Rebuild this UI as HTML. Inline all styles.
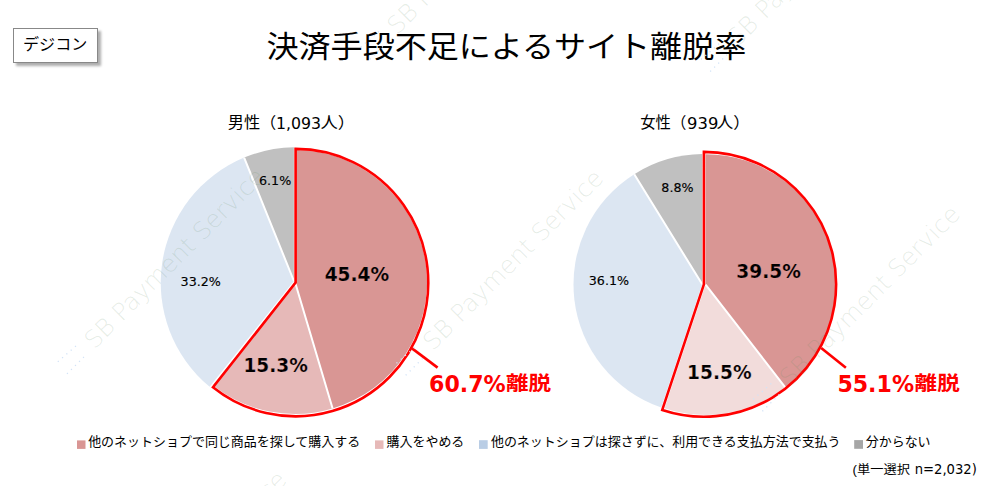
<!DOCTYPE html>
<html lang="ja">
<head>
<meta charset="utf-8">
<title>決済手段不足によるサイト離脱率</title>
<style>
html,body{margin:0;padding:0;background:#fff;}
body{width:1000px;height:486px;overflow:hidden;position:relative;font-family:"Liberation Sans","Noto Sans CJK JP",sans-serif;color:#000;}
#box{position:absolute;left:13px;top:28px;width:85px;height:35px;border:1px solid #888888;background:#fff;box-sizing:border-box;box-shadow:2.5px 2.5px 2.5px rgba(0,0,0,0.32);}
svg{position:absolute;left:0;top:0;}
.wm{font-family:"DejaVu Sans","Liberation Sans",sans-serif;font-size:24.3px;fill:rgba(95,140,95,0.16);font-weight:200;}
</style>
</head>
<body>
<div id="box"></div>
<svg width="1000" height="486" viewBox="0 0 1000 486">
<g>
<path fill="#D99694" d="M295.00 282.00 L295.00 150.00 A132.00 132.00 0 0 1 332.62 408.52 Z"/>
<path fill="#E6B9B8" d="M295.00 282.00 L332.62 408.52 A132.00 132.00 0 0 1 212.79 385.28 Z"/>
<path fill="#DCE6F2" d="M293.90 281.00 L209.65 386.84 A135.45 135.45 0 0 1 244.14 157.60 Z"/>
<path fill="#C0C0C0" d="M293.90 281.00 L244.14 157.60 A135.45 135.45 0 0 1 293.90 147.22 Z"/>
<path fill="#D99694" d="M705.60 284.60 L705.60 154.30 A130.30 130.30 0 0 1 785.46 387.56 Z"/>
<path fill="#F2DCDB" d="M705.60 284.60 L785.46 387.56 A130.30 130.30 0 0 1 664.56 408.27 Z"/>
<path fill="#DCE6F2" d="M702.20 284.30 L661.29 407.57 A130.30 130.30 0 0 1 634.26 174.21 Z"/>
<path fill="#C0C0C0" d="M702.20 284.30 L634.26 174.21 A130.30 130.30 0 0 1 702.20 154.11 Z"/>
</g>
<path fill="none" stroke="#ffffff" stroke-width="2.0" stroke-linecap="butt" d="M293.90 281.00 L244.14 157.60 M295.00 282.00 L332.62 408.52 M702.20 284.30 L634.26 174.21 M705.60 284.60 L785.46 387.56"/>
<g fill="none" stroke="#FF0000" stroke-width="2.6" stroke-linejoin="miter" stroke-miterlimit="10">
<path d="M295.60 282.60 L295.60 148.90 A132.65 133.70 0 1 1 212.99 387.21 Z"/>
<path d="M703.90 284.30 L703.90 151.90 A132.20 132.40 0 1 1 662.26 409.96 Z"/>
<path d="M412 348.4 L437.6 367.6"/>
<path d="M821.2 348 L845.9 367.8"/>
</g>
<text x="50" y="100" transform="matrix(1.0019 0 0 0.9333 216.40 -36.53)" style="font-family:'Liberation Sans','Noto Sans CJK JP',sans-serif;font-size:32px;font-weight:normal;" fill="#000">決済手段不足によるサイト離脱率</text>
<text x="50" y="100" transform="matrix(1.0065 0 0 0.9733 -27.33 -47.51)" style="font-family:'Liberation Sans','Noto Sans CJK JP',sans-serif;font-size:16px;font-weight:normal;" fill="#000">デジコン</text>
<text x="50" y="100" transform="matrix(1.0130 0 0 0.9800 177.03 29.84)" style="font-family:'Liberation Sans','Noto Sans CJK JP',sans-serif;font-size:16px;font-weight:normal;" fill="#000">男性（</text>
<text x="50" y="100" transform="matrix(0.9837 0 0 1.0333 226.85 25.47)" style="font-family:'DejaVu Sans','Liberation Sans',sans-serif;font-size:16px;font-weight:normal;" fill="#000">1,093</text>
<text x="50" y="100" transform="matrix(1.0850 0 0 0.9800 266.17 29.84)" style="font-family:'Liberation Sans','Noto Sans CJK JP',sans-serif;font-size:16px;font-weight:normal;" fill="#000">人）</text>
<text x="50" y="100" transform="matrix(0.9587 0 0 0.9800 592.31 29.84)" style="font-family:'Liberation Sans','Noto Sans CJK JP',sans-serif;font-size:16px;font-weight:normal;" fill="#000">女性（</text>
<text x="50" y="100" transform="matrix(1.0250 0 0 1.0333 635.83 25.57)" style="font-family:'DejaVu Sans','Liberation Sans',sans-serif;font-size:16px;font-weight:normal;" fill="#000">939</text>
<text x="50" y="100" transform="matrix(1.0500 0 0 0.9800 663.95 29.84)" style="font-family:'Liberation Sans','Noto Sans CJK JP',sans-serif;font-size:16px;font-weight:normal;" fill="#000">人）</text>
<text x="50" y="100" transform="matrix(1.0157 0 0 1.0319 208.21 81.82)" style="font-family:'DejaVu Sans','Liberation Sans',sans-serif;font-size:12.5px;font-weight:normal;" fill="#000" stroke="#000" stroke-width="0.15">6.1%</text>
<text x="50" y="100" transform="matrix(1.0157 0 0 1.0319 129.80 182.95)" style="font-family:'DejaVu Sans','Liberation Sans',sans-serif;font-size:12.5px;font-weight:normal;" fill="#000" stroke="#000" stroke-width="0.15">33.2%</text>
<text x="50" y="100" transform="matrix(1.0157 0 0 1.0319 610.56 88.40)" style="font-family:'DejaVu Sans','Liberation Sans',sans-serif;font-size:12.5px;font-weight:normal;" fill="#000" stroke="#000" stroke-width="0.15">8.8%</text>
<text x="50" y="100" transform="matrix(1.0157 0 0 1.0319 538.00 181.95)" style="font-family:'DejaVu Sans','Liberation Sans',sans-serif;font-size:12.5px;font-weight:normal;" fill="#000" stroke="#000" stroke-width="0.15">36.1%</text>
<text x="50" y="100" transform="matrix(1.0047 0 0 1.0481 274.41 175.70)" style="font-family:'DejaVu Sans','Liberation Sans',sans-serif;font-size:18.5px;font-weight:bold;" fill="#000" stroke="#D99694" stroke-width="0.2">45.4%</text>
<text x="50" y="100" transform="matrix(1.0047 0 0 1.0481 193.21 267.20)" style="font-family:'DejaVu Sans','Liberation Sans',sans-serif;font-size:18.5px;font-weight:bold;" fill="#000" stroke="#E6B9B8" stroke-width="0.2">15.3%</text>
<text x="50" y="100" transform="matrix(1.0047 0 0 1.0481 686.11 172.95)" style="font-family:'DejaVu Sans','Liberation Sans',sans-serif;font-size:18.5px;font-weight:bold;" fill="#000" stroke="#D99694" stroke-width="0.2">39.5%</text>
<text x="50" y="100" transform="matrix(1.0047 0 0 1.0481 636.81 274.40)" style="font-family:'DejaVu Sans','Liberation Sans',sans-serif;font-size:18.5px;font-weight:bold;" fill="#000" stroke="#F2DCDB" stroke-width="0.2">15.5%</text>
<text x="50" y="100" transform="matrix(0.9607 0 0 1.0059 381.09 291.21)" style="font-family:'DejaVu Sans','Liberation Sans',sans-serif;font-size:23px;font-weight:bold;" fill="#FF0000">60.7%</text>
<text x="50" y="100" transform="matrix(0.9607 0 0 1.0059 789.36 291.01)" style="font-family:'DejaVu Sans','Liberation Sans',sans-serif;font-size:23px;font-weight:bold;" fill="#FF0000">55.1%</text>
<text x="50" y="100" transform="matrix(1.0267 0 0 0.9000 454.61 299.90)" style="font-family:'Liberation Sans','Noto Sans CJK JP',sans-serif;font-size:22px;font-weight:bold;" fill="#FF0000">離脱</text>
<text x="50" y="100" transform="matrix(1.0267 0 0 0.9000 863.26 299.90)" style="font-family:'Liberation Sans','Noto Sans CJK JP',sans-serif;font-size:22px;font-weight:bold;" fill="#FF0000">離脱</text>
<text x="50" y="100" transform="matrix(0.9990 0 0 0.9692 38.19 349.04)" style="font-family:'Liberation Sans','Noto Sans CJK JP',sans-serif;font-size:13px;font-weight:normal;" fill="#000">他のネットショプで同じ商品を探して購入する</text>
<text x="50" y="100" transform="matrix(0.9990 0 0 0.9692 336.54 349.04)" style="font-family:'Liberation Sans','Noto Sans CJK JP',sans-serif;font-size:13px;font-weight:normal;" fill="#000">購入をやめる</text>
<text x="50" y="100" transform="matrix(0.9990 0 0 0.9692 440.98 349.04)" style="font-family:'Liberation Sans','Noto Sans CJK JP',sans-serif;font-size:13px;font-weight:normal;" fill="#000">他のネットショプは探さずに、利用できる支払方法で支払う</text>
<text x="50" y="100" transform="matrix(0.9990 0 0 0.9692 815.78 349.04)" style="font-family:'Liberation Sans','Noto Sans CJK JP',sans-serif;font-size:13px;font-weight:normal;" fill="#000">分からない</text>
<text x="50" y="100" transform="matrix(1.0218 0 0 0.9200 801.49 382.19)" style="font-family:'Liberation Sans','Noto Sans CJK JP',sans-serif;font-size:13px;font-weight:normal;" fill="#000">(単一選択</text>
<text x="50" y="100" transform="matrix(1.0136 0 0 1.0444 864.01 369.16)" style="font-family:'DejaVu Sans','Liberation Sans',sans-serif;font-size:13px;font-weight:normal;" fill="#000">n=2,032)</text>
<g>
<text class="wm" transform="translate(94.4 350.0) rotate(-45)">SB Payment Service</text>
<path transform="translate(94.4 350.0)" fill="none" stroke="#d2e3f7" stroke-width="1.3" stroke-dasharray="1.2 4.5" stroke-linecap="butt" d="M-36.6 11.8 L-18.4 -4 M-27.4 23.9 L-10.5 7"/>
<text class="wm" transform="translate(433.1 351.4) rotate(-45)">SB Payment Service</text>
<path transform="translate(433.1 351.4)" fill="none" stroke="#d2e3f7" stroke-width="1.3" stroke-dasharray="1.2 4.5" stroke-linecap="butt" d="M-36.6 11.8 L-18.4 -4 M-27.4 23.9 L-10.5 7"/>
<text class="wm" transform="translate(789.8 387.4) rotate(-45)">SB Payment Service</text>
<path transform="translate(789.8 387.4)" fill="none" stroke="#d2e3f7" stroke-width="1.3" stroke-dasharray="1.2 4.5" stroke-linecap="butt" d="M-36.6 11.8 L-18.4 -4 M-27.4 23.9 L-10.5 7"/>
<text class="wm" transform="translate(397.3 35.4) rotate(-45)">SB Payment Service</text>
<path transform="translate(397.3 35.4)" fill="none" stroke="#d2e3f7" stroke-width="1.3" stroke-dasharray="1.2 4.5" stroke-linecap="butt" d="M-36.6 11.8 L-18.4 -4 M-27.4 23.9 L-10.5 7"/>
<text class="wm" transform="translate(737.6 47.6) rotate(-45)">SB Payment Service</text>
<path transform="translate(737.6 47.6)" fill="none" stroke="#d2e3f7" stroke-width="1.3" stroke-dasharray="1.2 4.5" stroke-linecap="butt" d="M-36.6 11.8 L-18.4 -4 M-27.4 23.9 L-10.5 7"/>
<text class="wm" transform="translate(116.2 653.0) rotate(-45)">SB Payment Service</text>
<path transform="translate(116.2 653.0)" fill="none" stroke="#d2e3f7" stroke-width="1.3" stroke-dasharray="1.2 4.5" stroke-linecap="butt" d="M-36.6 11.8 L-18.4 -4 M-27.4 23.9 L-10.5 7"/>
</g>
<g>
<rect x="77" y="440.4" width="8.5" height="8.5" fill="#D99694"/>
<rect x="375" y="440.4" width="8.5" height="8.5" fill="#E6B9B8"/>
<rect x="479" y="440.2" width="8.7" height="8.7" fill="#B9CDE5"/>
<rect x="854.2" y="440.1" width="8.8" height="8.7" fill="#A6A6A6"/>
</g>
</svg>
</body>
</html>
